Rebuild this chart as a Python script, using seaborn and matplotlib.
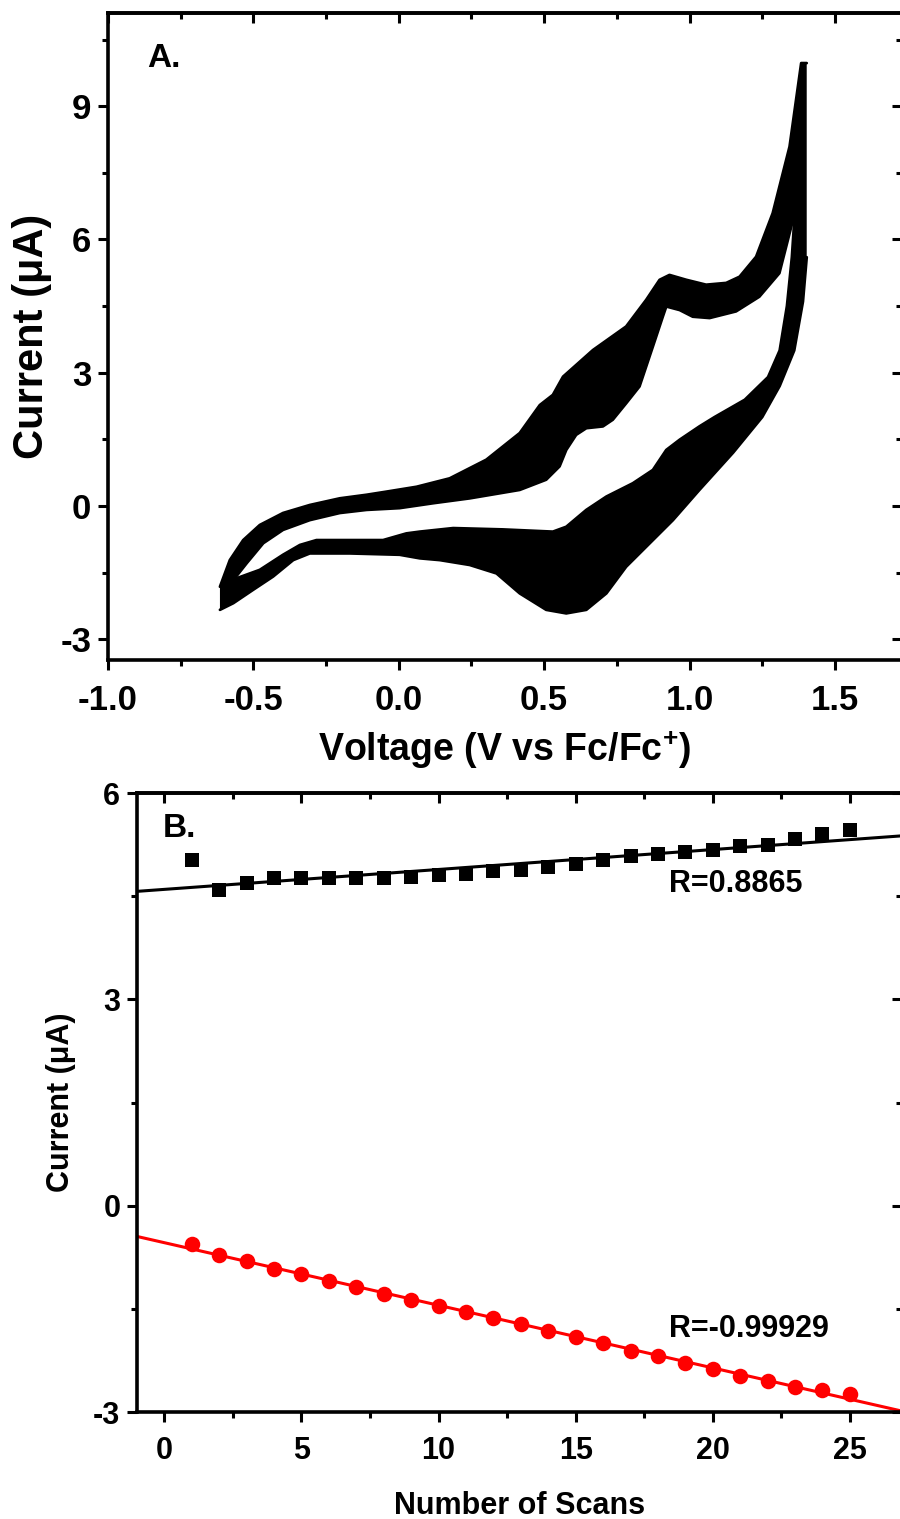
import numpy as np
import pandas as pd
import seaborn as sns
import matplotlib.pyplot as plt
from matplotlib.ticker import MultipleLocator

# ---- panel A: edges of the band of overlaid CV scans (V vs Fc/Fc+, uA)
# upper branch, outer edge (left -> right)
up_out_v = [-0.615, -0.581, -0.535, -0.478, -0.398, -0.306, -0.203, -0.111, -0.043, 0.061,
            0.175, 0.301, 0.416, 0.485, 0.53, 0.565, 0.668, 0.782, 0.851, 0.897,
            0.931, 0.989, 1.057, 1.126, 1.172, 1.229, 1.286, 1.344, 1.384, 1.403]
up_out_i = [-1.82, -1.22, -0.77, -0.43, -0.16, 0.02, 0.17, 0.25, 0.32, 0.43,
            0.62, 1.04, 1.64, 2.27, 2.5, 2.91, 3.51, 4.04, 4.64, 5.09,
            5.2, 5.09, 4.98, 5.02, 5.16, 5.61, 6.59, 8.09, 9.97, 9.97]
# lower branch, outer edge (right -> left)
lo_out_v = [1.403, 1.39, 1.36, 1.31, 1.25, 1.15, 1.034, 0.943, 0.851, 0.782,
            0.714, 0.645, 0.576, 0.507, 0.416, 0.336, 0.244, 0.141, 0.072, 0.003,
            -0.168, -0.306, -0.363, -0.432, -0.501, -0.569, -0.615]
lo_out_i = [5.6, 4.6, 3.5, 2.7, 2.0, 1.2, 0.36, -0.32, -0.92, -1.37,
            -1.97, -2.34, -2.42, -2.34, -1.97, -1.52, -1.33, -1.22, -1.18, -1.10,
            -1.07, -1.07, -1.22, -1.59, -1.89, -2.19, -2.34]
# upper branch, inner edge (left -> right)
up_in_v = [-0.564, -0.523, -0.466, -0.398, -0.306, -0.203, -0.111, 0.003, 0.118, 0.244,
           0.416, 0.507, 0.553, 0.576, 0.61, 0.645, 0.702, 0.736, 0.782, 0.828,
           0.874, 0.908, 0.92, 0.966, 1.011, 1.069, 1.16, 1.24, 1.309, 1.362]
up_in_i = [-1.63, -1.29, -0.84, -0.54, -0.32, -0.16, -0.09, -0.05, 0.06, 0.17,
           0.36, 0.59, 0.89, 1.26, 1.6, 1.75, 1.79, 1.94, 2.31, 2.69,
           3.59, 4.26, 4.49, 4.41, 4.26, 4.23, 4.38, 4.71, 5.24, 6.6]
# lower branch, inner edge (right -> left)
lo_in_v = [1.362, 1.352, 1.335, 1.31, 1.27, 1.19, 1.086, 1.034, 0.966, 0.92,
           0.874, 0.805, 0.714, 0.645, 0.576, 0.53, 0.358, 0.187, 0.072, 0.026,
           -0.054, -0.168, -0.283, -0.34, -0.398, -0.478, -0.558]
lo_in_i = [6.6, 5.6, 4.5, 3.5, 2.9, 2.39, 2.0, 1.79, 1.49, 1.26,
           0.81, 0.51, 0.21, -0.09, -0.47, -0.58, -0.53, -0.50, -0.58, -0.62,
           -0.77, -0.77, -0.77, -0.88, -1.10, -1.44, -1.63]

# ---- panel B: peak currents vs scan number
scans = list(range(1, 26))
anodic = [5.03, 4.59, 4.69, 4.76, 4.77, 4.77, 4.76, 4.76, 4.78, 4.81,
          4.83, 4.86, 4.88, 4.93, 4.97, 5.03, 5.08, 5.12, 5.15, 5.17,
          5.23, 5.24, 5.33, 5.40, 5.46]
cathodic = [-0.55, -0.715, -0.81, -0.915, -0.99, -1.09, -1.18, -1.28, -1.37, -1.46,
            -1.55, -1.63, -1.72, -1.82, -1.91, -2.00, -2.11, -2.18, -2.29, -2.38,
            -2.47, -2.55, -2.63, -2.68, -2.74]

sns.set_theme(style='ticks')
plt.rcParams['font.family'] = ['Liberation Sans', 'DejaVu Sans']
plt.rcParams['font.weight'] = 'bold'
plt.rcParams['axes.labelweight'] = 'bold'
plt.rcParams['axes.unicode_minus'] = False
plt.rcParams['mathtext.fontset'] = 'custom'
plt.rcParams['mathtext.rm'] = 'Liberation Sans:bold'
plt.rcParams['mathtext.bf'] = 'Liberation Sans:bold'
for key in ['text.color', 'axes.labelcolor', 'xtick.color', 'ytick.color', 'axes.edgecolor']:
    plt.rcParams[key] = 'black'

fig = plt.figure(figsize=(9, 15.19), dpi=100)
axA = fig.add_axes([0.12, 0.5655, 0.882, 0.426])
axB = fig.add_axes([0.1522, 0.0704, 0.85, 0.4075])


def style_axes(ax, xmaj, xmin, ymaj, ymin, lsize, xpad):
    ax.xaxis.set_major_locator(MultipleLocator(xmaj))
    ax.xaxis.set_minor_locator(MultipleLocator(xmin))
    ax.yaxis.set_major_locator(MultipleLocator(ymaj))
    ax.yaxis.set_minor_locator(MultipleLocator(ymin))
    for s in ax.spines.values():
        s.set_linewidth(2.6)
        s.set_color('black')
    ax.tick_params(which='both', direction='out', width=2.2, colors='black',
                   labelsize=lsize, pad=5)
    ax.tick_params(axis='x', which='both', pad=xpad)
    ax.tick_params(which='major', length=7)
    ax.tick_params(which='minor', length=4)
    # Origin style: mirrored ticks on top/right point inwards
    top = ax.secondary_xaxis('top')
    top.xaxis.set_major_locator(MultipleLocator(xmaj))
    top.xaxis.set_minor_locator(MultipleLocator(xmin))
    top.tick_params(which='both', direction='in', width=2.2, labeltop=False)
    top.tick_params(which='major', length=7)
    top.tick_params(which='minor', length=4)
    top.spines['top'].set_linewidth(2.6)
    right = ax.secondary_yaxis('right')
    right.yaxis.set_major_locator(MultipleLocator(ymaj))
    right.yaxis.set_minor_locator(MultipleLocator(ymin))
    right.tick_params(which='both', direction='in', width=2.2, labelright=False)
    right.tick_params(which='major', length=7)
    right.tick_params(which='minor', length=4)
    right.spines['right'].set_linewidth(2.6)


# ---- panel A
axA.set_xlim(-1.0, 1.73)
axA.set_ylim(-3.47, 11.1)
axA.fill(up_out_v + lo_out_v, up_out_i + lo_out_i, color='black', lw=0)
axA.fill(up_in_v + lo_in_v, up_in_i + lo_in_i, color='white', lw=0)
for vv, ii in [(up_out_v, up_out_i), (lo_out_v, lo_out_i), (up_in_v, up_in_i), (lo_in_v, lo_in_i)]:
    sns.lineplot(x=vv, y=ii, sort=False, estimator=None, color='black', lw=2,
                 solid_joinstyle='round', ax=axA)
axA.set_xlabel('Voltage (V vs Fc/Fc$^{+}$)', fontsize=27, labelpad=8)
axA.set_ylabel('Current (\u03bcA)', fontsize=30, labelpad=6)
axA.text(0.049, 0.93, 'A.', transform=axA.transAxes, fontsize=24, fontweight='bold',
         ha='left', va='center')
style_axes(axA, 0.5, 0.25, 3, 1.5, 25, 10)

# ---- panel B
axB.set_xlim(-1.0, 26.9)
axB.set_ylim(-3, 6)
df = pd.DataFrame({'scan': scans, 'anodic': anodic, 'cathodic': cathodic})
sns.regplot(data=df, x='scan', y='anodic', ax=axB, ci=None, truncate=False,
            marker='s', color='black', scatter_kws={'s': 100, 'linewidths': 0, 'alpha': 1},
            line_kws={'lw': 2.2})
sns.regplot(data=df, x='scan', y='cathodic', ax=axB, ci=None, truncate=False,
            marker='o', color='#ff0000', scatter_kws={'s': 125, 'linewidths': 0, 'alpha': 1},
            line_kws={'lw': 2.2})
axB.set_xlim(-1.0, 26.9)
axB.set_ylim(-3, 6)
axB.set_xlabel('Number of Scans', fontsize=22, labelpad=18)
axB.set_ylabel('Current (\u03bcA)', fontsize=22, labelpad=12)
axB.text(0.034, 0.943, 'B.', transform=axB.transAxes, fontsize=24, fontweight='bold',
         ha='left', va='center')
axB.text(18.4, 4.68, 'R=0.8865', fontsize=22, fontweight='bold', ha='left', va='center')
axB.text(18.4, -1.79, 'R=-0.99929', fontsize=22, fontweight='bold', ha='left', va='center')
style_axes(axB, 5, 2.5, 3, 1.5, 22, 10)

fig.savefig('out.png', dpi=100)
